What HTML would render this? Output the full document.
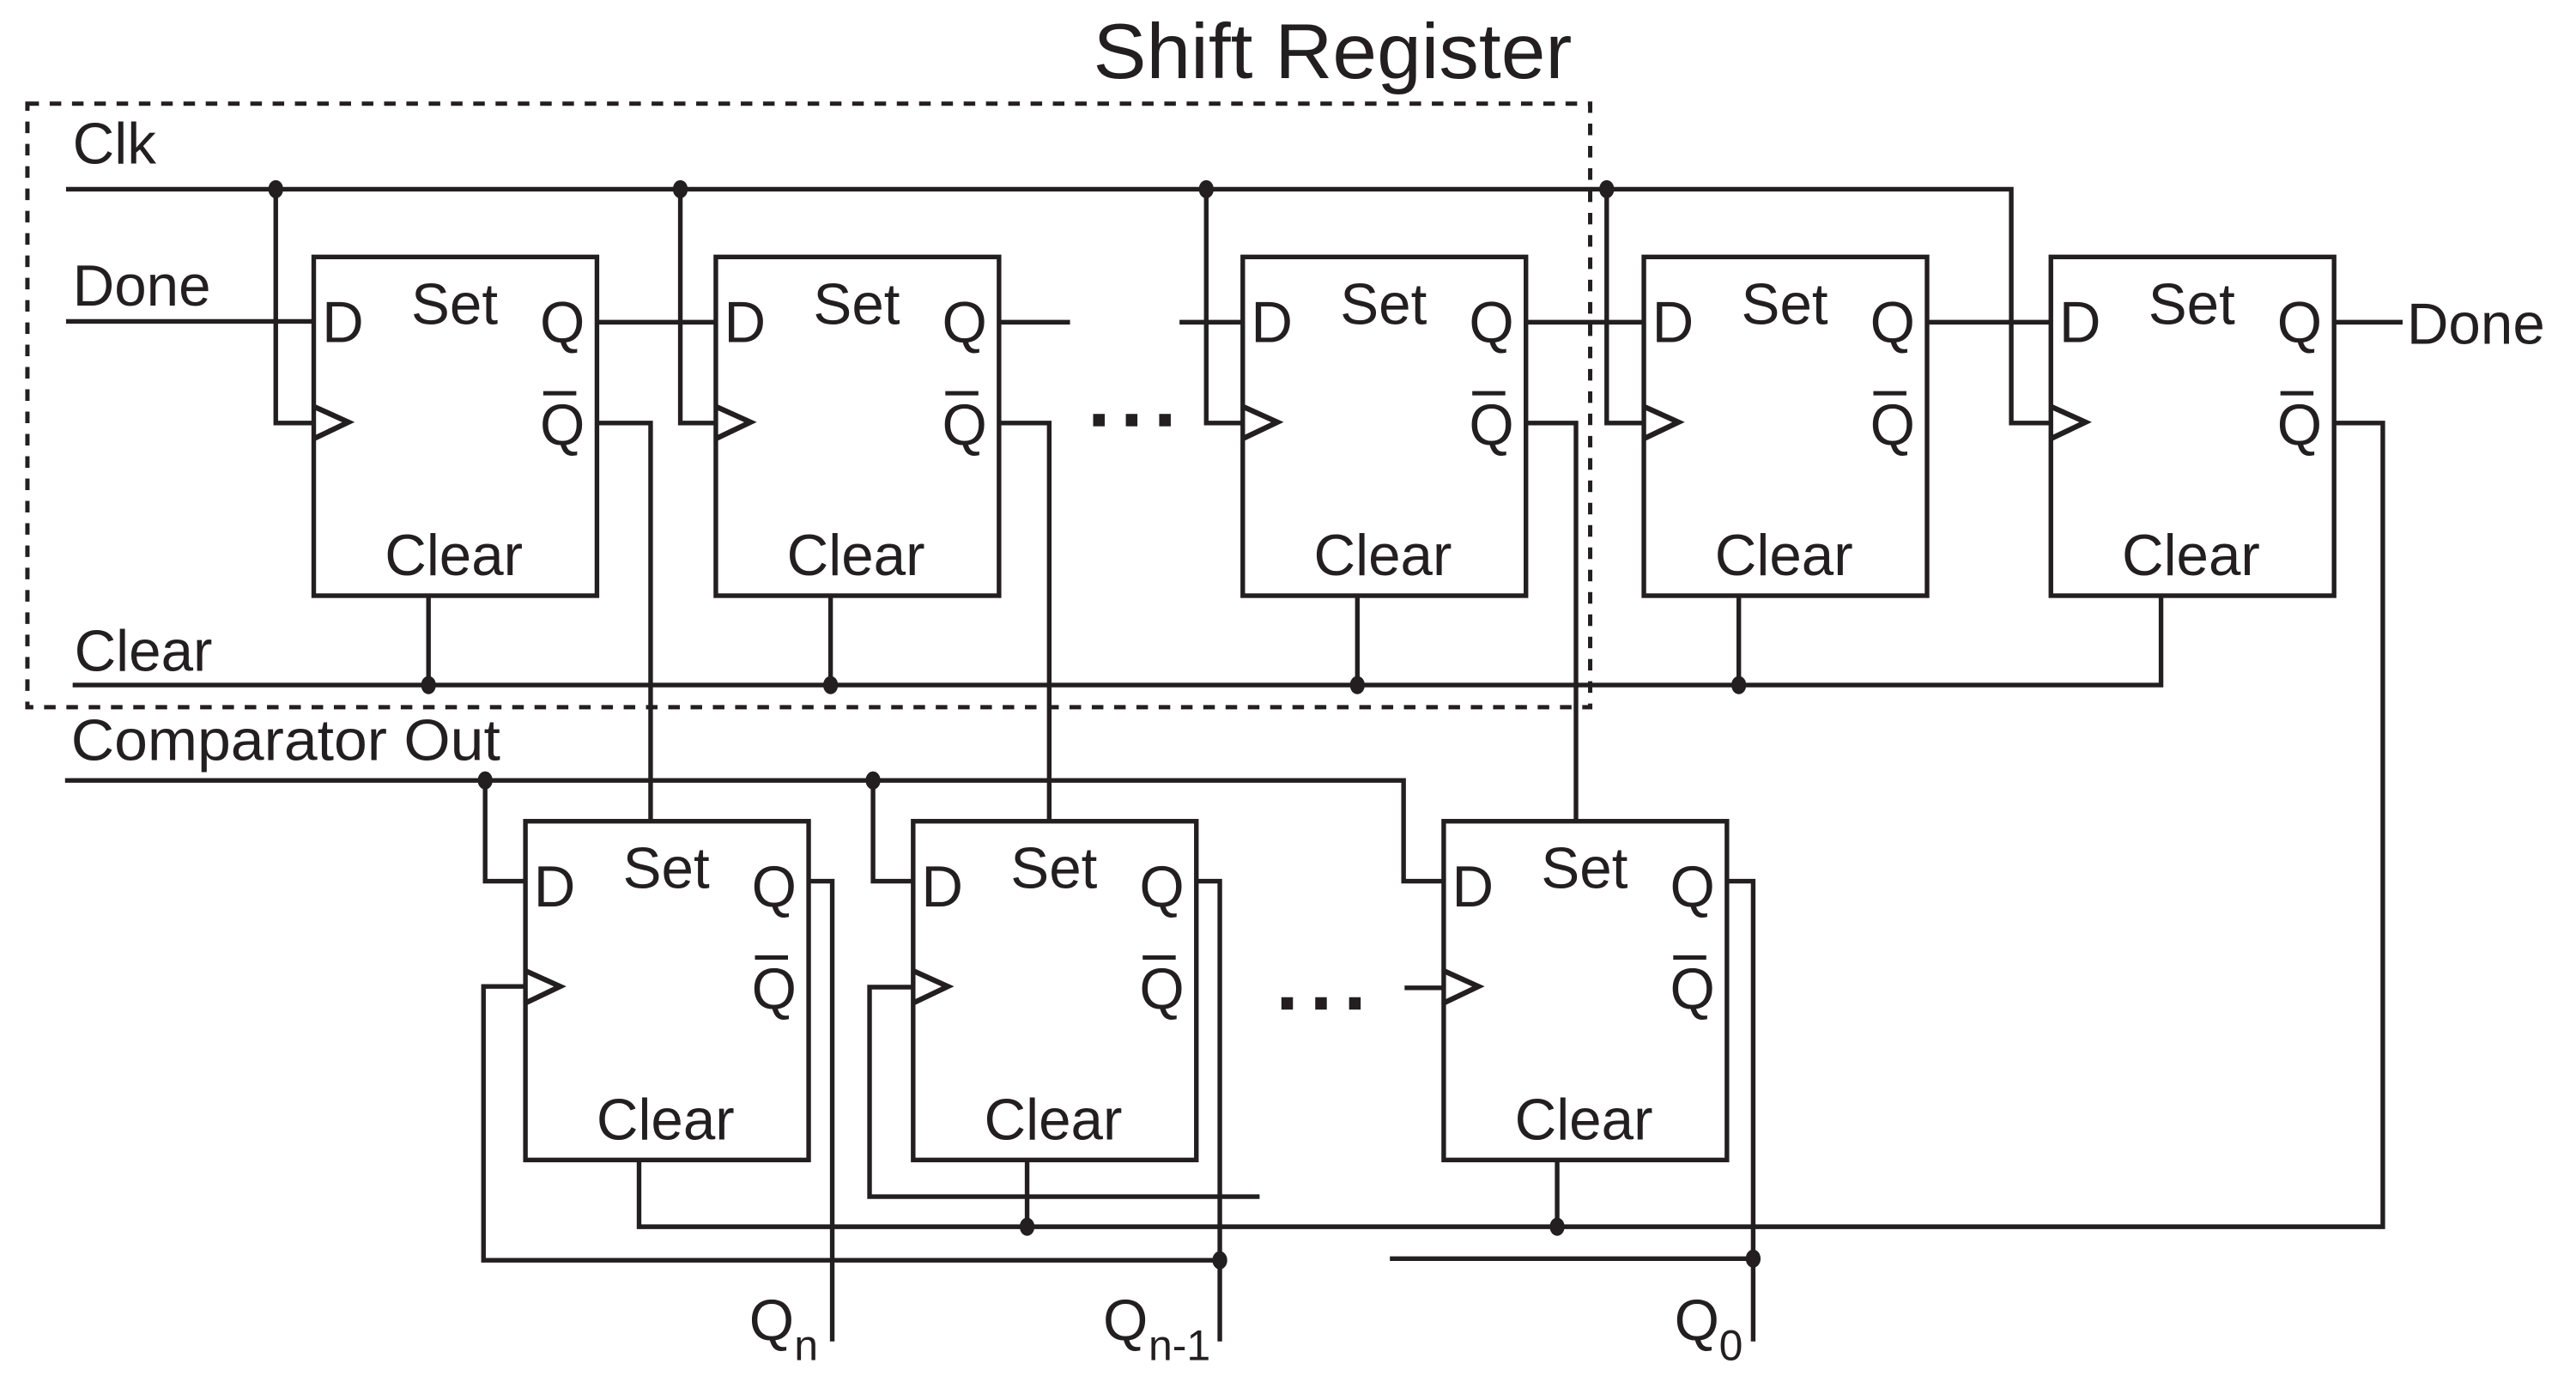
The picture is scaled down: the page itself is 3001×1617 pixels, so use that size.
<!DOCTYPE html>
<html><head><meta charset="utf-8"><style>
html,body{margin:0;padding:0;background:#fff;}
svg{display:block;}
text{font-family:"Liberation Sans",Arial,sans-serif;fill:#231f20;}
</style></head><body>
<svg width="3001" height="1617" viewBox="0 0 1560 840" preserveAspectRatio="none" xmlns="http://www.w3.org/2000/svg">
<defs>
<g id="ff">
  <rect x="0" y="0" width="171.5" height="205" fill="none" stroke="#231f20" stroke-width="2.8"/>
  <polyline points="0,90.5 21,100 0,110" fill="none" stroke="#231f20" stroke-width="3.2"/>
  <text x="5" y="51.5" font-size="35">D</text>
  <text x="59" y="40.5" font-size="35">Set</text>
  <text x="137" y="51.5" font-size="35">Q</text>
  <text x="137" y="113.5" font-size="35">Q</text>
  <line x1="139" y1="82.5" x2="159" y2="82.5" stroke="#231f20" stroke-width="2.6"/>
  <text x="43" y="192.5" font-size="35">Clear</text>
</g>
</defs>
<text x="662" y="47.3" font-size="47" textLength="290" lengthAdjust="spacingAndGlyphs">Shift Register</text>
<rect x="16.6" y="62.7" width="946.4" height="365.3" fill="none" stroke="#231f20" stroke-width="2.6" stroke-dasharray="7,6.5"/>

<g stroke="#231f20" stroke-width="2.8" fill="none">
<polyline points="40,114.5 1218,114.5 1218,256 1242,256"/>
<polyline points="167,114.5 167,256 190,256"/>
<polyline points="412,114.5 412,256 433.5,256"/>
<polyline points="730.5,114.5 730.5,256 752.6,256"/>
<polyline points="973,114.5 973,256 995,256"/>
<line x1="40" y1="194.5" x2="190" y2="194.5"/>
<line x1="361.5" y1="195" x2="433.5" y2="195"/>
<line x1="605" y1="195" x2="648" y2="195"/>
<line x1="714.3" y1="195" x2="752.6" y2="195"/>
<line x1="924.3" y1="195" x2="995" y2="195"/>
<line x1="1167" y1="195" x2="1242" y2="195"/>
<line x1="1413.5" y1="195" x2="1455" y2="195"/>
<polyline points="361.5,256 394,256 394,497"/>
<polyline points="605,256 635.4,256 635.4,497"/>
<polyline points="924.3,256 954.4,256 954.4,497"/>
<polyline points="1413.5,256 1443,256 1443,742.4 387,742.4 387,702"/>
<polyline points="44,414.6 1308.7,414.6 1308.7,360.5"/>
<line x1="259.5" y1="360.5" x2="259.5" y2="414.6"/>
<line x1="503" y1="360.5" x2="503" y2="414.6"/>
<line x1="822" y1="360.5" x2="822" y2="414.6"/>
<line x1="1053" y1="360.5" x2="1053" y2="414.6"/>
<polyline points="39.4,472.3 850,472.3 850,533.3 874.3,533.3"/>
<polyline points="293.8,472.3 293.8,533.3 318.2,533.3"/>
<polyline points="528.7,472.3 528.7,533.3 553,533.3"/>
<polyline points="318.2,597 292.8,597 292.8,762.7 738.7,762.7"/>
<polyline points="553,597.4 526.6,597.4 526.6,724.2 762.8,724.2"/>
<line x1="850.6" y1="597.8" x2="874.3" y2="597.8"/>
<line x1="841.7" y1="761.7" x2="1061.7" y2="761.7"/>
<line x1="622" y1="702" x2="622" y2="742.4"/>
<line x1="943" y1="702" x2="943" y2="742.4"/>
<polyline points="489.5,533.3 504,533.3 504,811.8"/>
<polyline points="724,533.3 738.7,533.3 738.7,811.8"/>
<polyline points="1045.5,533.3 1061.7,533.3 1061.7,811.8"/>
</g>

<g fill="#231f20">
<ellipse cx="167" cy="114.5" rx="4.5" ry="5.5"/><ellipse cx="412" cy="114.5" rx="4.5" ry="5.5"/>
<ellipse cx="730.5" cy="114.5" rx="4.5" ry="5.5"/><ellipse cx="973" cy="114.5" rx="4.5" ry="5.5"/>
<ellipse cx="259.5" cy="414.6" rx="4.5" ry="5.5"/><ellipse cx="503" cy="414.6" rx="4.5" ry="5.5"/>
<ellipse cx="822" cy="414.6" rx="4.5" ry="5.5"/><ellipse cx="1053" cy="414.6" rx="4.5" ry="5.5"/>
<ellipse cx="293.8" cy="472.3" rx="4.5" ry="5.5"/><ellipse cx="528.7" cy="472.3" rx="4.5" ry="5.5"/>
<ellipse cx="622" cy="742.4" rx="4.5" ry="5.5"/><ellipse cx="943" cy="742.4" rx="4.5" ry="5.5"/>
<ellipse cx="738.7" cy="762.7" rx="4.5" ry="5.5"/><ellipse cx="1061.7" cy="761.7" rx="4.5" ry="5.5"/>
<rect x="662" y="250.5" width="7" height="7.5"/><rect x="681.8" y="250.5" width="7" height="7.5"/><rect x="702" y="250.5" width="7" height="7.5"/>
<rect x="776" y="603.5" width="7" height="7.5"/><rect x="796.5" y="603.5" width="7" height="7.5"/><rect x="817" y="603.5" width="7" height="7.5"/>
</g>

<use href="#ff" x="190" y="155.5"/>
<use href="#ff" x="433.5" y="155.5"/>
<use href="#ff" x="752.6" y="155.5"/>
<use href="#ff" x="995.5" y="155.5"/>
<use href="#ff" x="1242" y="155.5"/>
<use href="#ff" x="318.2" y="497"/>
<use href="#ff" x="553" y="497"/>
<use href="#ff" x="874.3" y="497"/>

<text x="44" y="99" font-size="35">Clk</text>
<text x="44" y="185" font-size="35">Done</text>
<text x="45" y="406" font-size="35">Clear</text>
<text x="43" y="460" font-size="35" textLength="260" lengthAdjust="spacingAndGlyphs">Comparator Out</text>
<text x="1457.5" y="208" font-size="35">Done</text>
<text x="453.7" y="810.9" font-size="35">Q</text><text x="481" y="823" font-size="26">n</text>
<text x="668" y="810.9" font-size="35">Q</text><text x="695.5" y="823" font-size="26">n-1</text>
<text x="1014" y="810.9" font-size="35">Q</text><text x="1041" y="823" font-size="26">0</text>
</svg>
</body></html>
